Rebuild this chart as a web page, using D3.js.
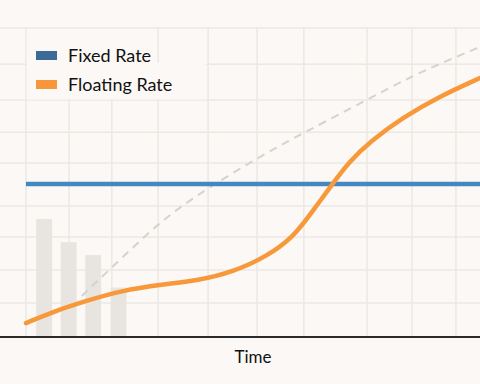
<!DOCTYPE html>
<html>
<head>
<meta charset="utf-8">
<script src="https://cdn.jsdelivr.net/npm/d3@7"></script>
<style>
    body{ margin:0; background:#fbf8f5; }
    svg{ display:block; }
</style>
</head>
<body>
<div id="chart"></div>
<script>
//Floating rate curve (time, rate)
var floatX = [0, 0.6, 1.3, 2.1, 3.0, 3.8, 4.55, 5.3, 5.9, 6.3, 6.75, 7.1, 7.6, 8.3, 9.1, 10];
var floatY = [0.45, 0.82, 1.16, 1.5, 1.7, 1.83, 2.1, 2.6, 3.25, 4.05, 4.95, 5.65, 6.35, 7.1, 7.78, 8.38];

//Dashed reference curve
var dashX = [1.23, 2.36, 3.11, 4.01, 5.09, 6.1, 7.51, 8.5, 9.47, 10];
var dashY = [1.33, 2.91, 3.92, 4.82, 5.79, 6.6, 7.67, 8.45, 9.06, 9.39];

//Fixed rate level
var fixedRate = 4.95;

//Grey bars
var barX = [0.4, 0.94, 1.48, 2.04];
var barY = [3.82, 3.07, 2.65, 1.6];

//Grid positions
var gridX = [0, 0.95, 1.89, 2.91, 4.01, 5.09, 6.12, 7.51, 8.5, 9.47];
var gridY = [1.1, 2.17, 3.24, 4.24, 5.63, 6.63, 7.67, 8.83, 10];

//Legend labels
var legendLabels = ["Fixed Rate", "Floating Rate"];
var legendColors = ["#3d6b97", "#f7963a"];

var width = 480;
var height = 384;

var svg = d3.select("#chart").append("svg")
    .attr("width", width)
    .attr("height", height);

svg.append("rect")
    .attr("width", width)
    .attr("height", height)
    .attr("fill", "#fbf8f5");

//Scales
var xScale = d3.scaleLinear().domain([0, 10]).range([26, 480]);
var yScale = d3.scaleLinear().domain([0, 10]).range([337, 28]);

//Grid lines
svg.append("g").selectAll("line")
    .data(gridY)
    .enter().append("line")
        .attr("x1", 0)
        .attr("x2", width)
        .attr("y1", function(d){ return yScale(d); })
        .attr("y2", function(d){ return yScale(d); })
        .attr("stroke", "#ece8e4")
        .attr("stroke-width", 1.5);

svg.append("g").selectAll("line")
    .data(gridX)
    .enter().append("line")
        .attr("x1", function(d){ return xScale(d); })
        .attr("x2", function(d){ return xScale(d); })
        .attr("y1", yScale(10))
        .attr("y2", yScale(0))
        .attr("stroke", "#ece8e4")
        .attr("stroke-width", 1.5);

//Bars
var barW = xScale(0.35) - xScale(0);
svg.append("g").selectAll("rect")
    .data(barY)
    .enter().append("rect")
        .attr("x", function(d, i){ return xScale(barX[i]) - barW / 2; })
        .attr("y", function(d){ return yScale(d); })
        .attr("width", barW)
        .attr("height", function(d){ return yScale(0) - yScale(d); })
        .attr("fill", "#e8e5e1");

//Smooth line generator
var line = d3.line()
    .x(function(d){ return xScale(d[0]); })
    .y(function(d){ return yScale(d[1]); })
    .curve(d3.curveBasis);

//Dashed curve
svg.append("path")
    .datum(d3.zip(dashX, dashY))
    .attr("d", line)
    .attr("fill", "none")
    .attr("stroke", "#d6d3cf")
    .attr("stroke-width", 2)
    .attr("stroke-dasharray", "8,6");

//Fixed rate line
svg.append("line")
    .attr("x1", xScale(0))
    .attr("x2", xScale(10))
    .attr("y1", yScale(fixedRate))
    .attr("y2", yScale(fixedRate))
    .attr("stroke", "#4587c0")
    .attr("stroke-width", 4.5);

//Floating rate curve
svg.append("path")
    .datum(d3.zip(floatX, floatY))
    .attr("d", line)
    .attr("fill", "none")
    .attr("stroke", "#f7993a")
    .attr("stroke-width", 4.5)
    .attr("stroke-linecap", "round");

//X axis line
svg.append("line")
    .attr("x1", 0)
    .attr("x2", width)
    .attr("y1", yScale(0))
    .attr("y2", yScale(0))
    .attr("stroke", "#2b2b2b")
    .attr("stroke-width", 2);

//Axis title
svg.append("text")
    .attr("x", xScale(5))
    .attr("y", 363)
    .attr("text-anchor", "middle")
    .attr("font-family", "Lato, sans-serif")
    .attr("font-size", 17)
    .attr("fill", "#111")
    .text("Time");

//Legend, each row has a background box over the grid
var legend = svg.append("g");
var rowBoxes = [[29, 63, 154], [63, 99.5, 206]];
legend.selectAll("rect.bg")
    .data(rowBoxes)
    .enter().append("rect")
        .attr("class", "bg")
        .attr("x", 26.8)
        .attr("y", function(d){ return d[0]; })
        .attr("width", function(d){ return d[2] - 26.8; })
        .attr("height", function(d){ return d[1] - d[0]; })
        .attr("fill", "#fbf8f5");

legend.selectAll("rect.sw")
    .data(legendLabels)
    .enter().append("rect")
        .attr("class", "sw")
        .attr("x", 36)
        .attr("y", function(d, i){ return 51 + i * 29; })
        .attr("width", 21)
        .attr("height", 9)
        .attr("fill", function(d, i){ return legendColors[i]; });

legend.selectAll("text")
    .data(legendLabels)
    .enter().append("text")
        .attr("x", 68)
        .attr("y", function(d, i){ return 62 + i * 29; })
        .attr("font-family", "Lato, sans-serif")
        .attr("font-size", 18)
        .attr("fill", "#111")
        .text(function(d){ return d; });
</script>
</body>
</html>
